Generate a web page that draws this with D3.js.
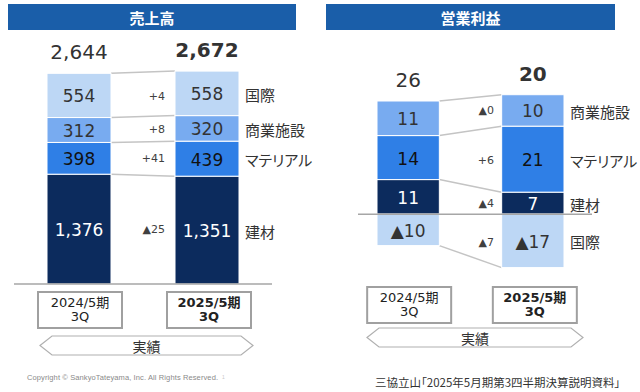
<!DOCTYPE html>
<html>
<head>
<meta charset="utf-8">
<script src="https://cdn.jsdelivr.net/npm/d3@7"></script>
<style>
  body { margin: 0; background: #fff; }
  svg { display: block; font-family: "DejaVu Sans", "Noto Sans CJK JP", sans-serif; }
  .jp { font-family: "Noto Sans CJK JP", sans-serif; font-feature-settings: "palt"; }
</style>
</head>
<body>
<div id="chart"></div>
<script>
// data
var periods = ["2024/5期", "2025/5期"];
var segments = ["建材", "マテリアル", "商業施設", "国際"];
var segColors = ["#0c2b5d", "#2f7fe6", "#78abf0", "#bdd7f5"];
var segTextColors = ["#ffffff", "#111111", "#333333", "#333333"];

var sales2024 = [1376, 398, 312, 554];
var sales2025 = [1351, 439, 320, 558];
var salesTotals = [2644, 2672];
var salesDiff = ["▲25", "+41", "+8", "+4"];

var profit2024 = [11, 14, 11, -10];
var profit2025 = [7, 21, 10, -17];
var profitTotals = [26, 20];
var profitDiff = ["▲4", "+6", "▲0", "▲7"];

var W = 640, H = 392;
var svg = d3.select("#chart").append("svg").attr("width", W).attr("height", H);

var fmt = function (v) {
    return v < 0 ? "▲" + d3.format(",")(-v) : d3.format(",")(v);
};

// stack positive values up from zero, negatives down
var stack = function (vals) {
    var pos = 0, neg = 0;
    return vals.map(function (v, i) {
        var s;
        if (v >= 0) { s = {i: i, v: v, y0: pos, y1: pos + v}; pos += v; }
        else { s = {i: i, v: v, y0: neg + v, y1: neg}; neg += v; }
        return s;
    });
};

var drawPanel = function (opt) {
    var g = svg.append("g");

    // title bar
    g.append("rect")
        .attr("x", opt.titleX[0]).attr("y", 4)
        .attr("width", opt.titleX[1] - opt.titleX[0]).attr("height", 26)
        .attr("fill", "#1a5ea9");
    g.append("text")
        .attr("class", "jp")
        .attr("x", (opt.titleX[0] + opt.titleX[1]) / 2).attr("y", 17)
        .attr("dominant-baseline", "central")
        .attr("text-anchor", "middle")
        .attr("fill", "#fff").attr("font-weight", "bold").attr("font-size", 15)
        .text(opt.title);

    var x = d3.scaleBand().domain(periods).range(opt.xRange).paddingInner(0.5).paddingOuter(0);
    var y = d3.scaleLinear().domain(opt.yDomain).range(opt.yRange);

    var stacks = [stack(opt.values[0]), stack(opt.values[1])];

    // connector lines between the bars, at each segment's outer edge
    segments.forEach(function (s, i) {
        var a = stacks[0][i], b = stacks[1][i];
        var ea = a.v >= 0 ? a.y1 : a.y0;
        var eb = b.v >= 0 ? b.y1 : b.y0;
        g.append("line")
            .attr("x1", x(periods[0]) + x.bandwidth()).attr("y1", y(ea))
            .attr("x2", x(periods[1])).attr("y2", y(eb))
            .attr("stroke", "#c4c4c4").attr("stroke-width", 1.5);
    });

    // diffs
    segments.forEach(function (s, i) {
        var a = stacks[0][i], b = stacks[1][i];
        var mid = (y(a.y0) + y(a.y1) + y(b.y0) + y(b.y1)) / 4;
        g.append("text")
            .attr("x", opt.diffX).attr("y", mid + (opt.diffDy ? opt.diffDy[i] : 0))
            .attr("dominant-baseline", "central")
            .attr("text-anchor", "end")
            .attr("font-size", 11).attr("fill", "#404040")
            .text(opt.diffs[i]);
    });

    // bars
    stacks.forEach(function (st, p) {
        var bar = g.append("g");
        bar.selectAll("rect").data(st).enter().append("rect")
            .attr("x", x(periods[p]))
            .attr("y", function (d) { return y(d.y1); })
            .attr("width", x.bandwidth())
            .attr("height", function (d) { return y(d.y0) - y(d.y1); })
            .attr("fill", function (d) { return segColors[d.i]; })
            .attr("stroke", "#fff").attr("stroke-width", 1);
        bar.selectAll("text").data(st).enter().append("text")
            .attr("x", x(periods[p]) + x.bandwidth() / 2)
            .attr("y", function (d) { return (y(d.y0) + y(d.y1)) / 2 + 1; })
            .attr("dominant-baseline", "central")
            .attr("text-anchor", "middle")
            .attr("font-size", 17)
            .attr("fill", function (d) { return segTextColors[d.i]; })
            .text(function (d) { return fmt(d.v); });

        var top = d3.max(st, function (d) { return d.y1; });
        g.append("text")
            .attr("x", x(periods[p]) + x.bandwidth() / 2)
            .attr("y", y(top) - 21)
            .attr("dominant-baseline", "central")
            .attr("text-anchor", "middle")
            .attr("font-size", 20)
            .attr("font-weight", p === 1 ? "bold" : "normal")
            .attr("fill", "#333")
            .text(fmt(opt.totals[p]));
    });

    // baseline
    g.append("line")
        .attr("x1", opt.baseX[0]).attr("x2", opt.baseX[1])
        .attr("y1", y(0)).attr("y2", y(0))
        .attr("stroke", "#a6a6a6").attr("stroke-width", 1.5);

    // segment names, next to the second bar
    stacks[1].forEach(function (d) {
        g.append("text")
            .attr("class", "jp")
            .attr("x", x(periods[1]) + x.bandwidth() + 6)
            .attr("y", (y(d.y0) + y(d.y1)) / 2 + 1)
            .attr("dominant-baseline", "central")
            .attr("font-size", 15).attr("fill", "#333")
            .text(segments[d.i]);
    });

    // period boxes
    periods.forEach(function (p, i) {
        var cx = x(p) + x.bandwidth() / 2 + (i === 1 ? 2 : 1);
        var bw = 84;
        g.append("rect")
            .attr("x", cx - bw / 2).attr("y", opt.boxY)
            .attr("width", bw).attr("height", 36)
            .attr("fill", "#fff").attr("stroke", "#a0a0a0").attr("stroke-width", 2);
        var t = g.append("text")
            .attr("text-anchor", "middle")
            .attr("font-size", 13).attr("fill", "#222")
            .attr("font-weight", i === 1 ? "bold" : "normal");
        t.append("tspan").attr("x", cx).attr("y", opt.boxY + 15).text(p);
        t.append("tspan").attr("x", cx).attr("y", opt.boxY + 29).text("3Q");
    });

    // 実績 arrow
    var ax0 = opt.arrowX[0], ax1 = opt.arrowX[1], ay = opt.arrowY, ah = 19;
    g.append("path")
        .attr("d", d3.line()([
            [ax0, ay + ah / 2], [ax0 + 12, ay], [ax1 - 12, ay],
            [ax1, ay + ah / 2], [ax1 - 12, ay + ah], [ax0 + 12, ay + ah]
        ]) + "Z")
        .attr("fill", "#fff").attr("stroke", "#b0b0b0").attr("stroke-width", 1.2);
    g.append("text")
        .attr("class", "jp")
        .attr("x", (ax0 + ax1) / 2).attr("y", ay + ah / 2)
        .attr("dominant-baseline", "central")
        .attr("text-anchor", "middle")
        .attr("font-size", 14).attr("fill", "#333")
        .text("実績");
};

drawPanel({
    title: "売上高",
    titleX: [8, 296],
    xRange: [47, 239],
    yDomain: [0, 2644],
    yRange: [284, 73],
    values: [sales2024, sales2025],
    totals: salesTotals,
    diffs: salesDiff,
    diffX: 165,
    diffDy: [0, 0, 0, 2],
    baseX: [14, 272],
    boxY: 292,
    arrowX: [40, 253],
    arrowY: 336
});

drawPanel({
    title: "営業利益",
    titleX: [326, 615],
    xRange: [377, 564],
    yDomain: [-17, 36],
    yRange: [267.6, 101],
    values: [profit2024, profit2025],
    totals: profitTotals,
    diffs: profitDiff,
    diffX: 494,
    diffDy: [3, 2, -4, 7],
    baseX: [358, 592],
    boxY: 287,
    arrowX: [367, 583],
    arrowY: 328
});

// footers
svg.append("text")
    .attr("x", 27).attr("y", 377)
    .attr("dominant-baseline", "central")
    .attr("font-family", "Liberation Sans, Arial, sans-serif")
    .attr("font-size", 7.5).attr("fill", "#8a8a8a")
    .attr("textLength", 191)
    .text("Copyright © SankyoTateyama, Inc. All Rights Reserved.");
svg.append("text")
    .attr("x", 222).attr("y", 377)
    .attr("dominant-baseline", "central")
    .attr("font-family", "Liberation Sans, Arial, sans-serif")
    .attr("font-size", 5).attr("fill", "#c8c8c8")
    .text("1");
svg.append("text")
    .attr("class", "jp")
    .attr("x", 375).attr("y", 382)
    .attr("dominant-baseline", "central")
    .attr("font-size", 11.5).attr("fill", "#333")
    .text("三協立山「2025年5月期第3四半期決算説明資料」");
</script>
</body>
</html>
